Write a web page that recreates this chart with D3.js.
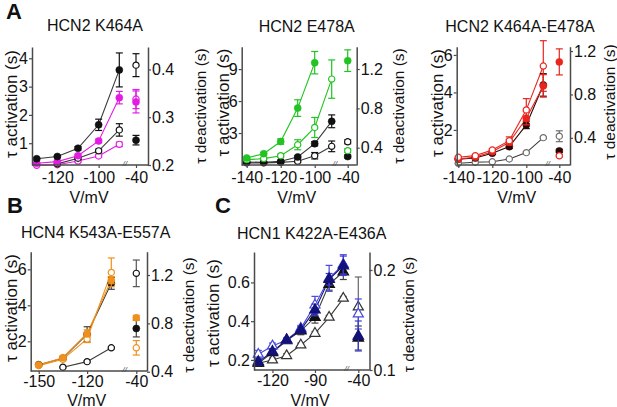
<!DOCTYPE html>
<html><head><meta charset="utf-8">
<script src="https://cdn.jsdelivr.net/npm/d3@7"></script>
<style>
body{margin:0;background:#fff;}
svg text{font-family:"Liberation Sans",Arial,Helvetica,sans-serif;}
</style></head><body>
<svg id="chart" width="617" height="407"></svg>
<script>
// ---------------- DATA ----------------
// Panel A1: HCN2 K464A
const a1Volt = [-130, -120, -110, -100, -90];
const a1BlackFilled = [0.45, 0.53, 0.82, 1.65, 3.59];
const a1BlackFilledErr = [0.04, 0.04, 0.06, 0.2, 0.6];
const a1MagentaFilled = [0.29, 0.35, 0.56, 1.08, 2.61];
const a1MagentaFilledErr = [0.03, 0.03, 0.05, 0.06, 0.22];
const a1BlackOpenVolt = [-120, -110, -100, -90];
const a1BlackOpen = [0.27, 0.47, 0.73, 1.47];
const a1BlackOpenErr = [0.03, 0.04, 0.06, 0.22];
const a1MagentaOpen = [0.22, 0.24, 0.37, 0.55, 0.96];
const a1MagentaOpenErr = [0.02, 0.03, 0.04, 0.05, 0.08];
// deactivation at -40 mV: [blackFilled, magentaFilled, blackOpen, magentaOpen]
const a1Deact = [0.252, 0.332, 0.409, 0.338];
const a1DeactErr = [0.01, 0.023, 0.024, 0.02];

// Panel A2: HCN2 E478A
const a2Volt = [-140, -130, -120, -110, -100, -90];
const a2GreenFilledVolt = [-140, -130, -120, -110, -100];
const a2GreenFilled = [0.66, 1.06, 2.2, 5.34, 9.6];
const a2GreenFilledErr = [0.1, 0.12, 0.25, 0.78, 1.05];
const a2GreenOpen = [0.5, 0.6, 0.87, 1.9, 3.52, 8.06];
const a2GreenOpenErr = [0.05, 0.08, 0.15, 0.47, 0.94, 1.8];
const a2BlackFilled = [0.28, 0.25, 0.35, 0.75, 2.0, 4.1];
const a2BlackFilledErr = [0.05, 0.05, 0.05, 0.1, 0.2, 0.6];
const a2BlackOpen = [0.2, 0.2, 0.25, 0.35, 0.87, 1.75];
const a2BlackOpenErr = [0.03, 0.03, 0.05, 0.1, 0.3, 0.5];
// [greenFilled, greenOpen, blackFilled, blackOpen]
const a2Deact = [1.285, 0.37, 0.31, 0.46];
const a2DeactErr = [0.11, 0.02, 0.015, 0.02];

// Panel A3: HCN2 K464A-E478A
const a3Volt = [-140, -130, -120, -110, -100, -90];
const a3RedOpen = [0.54, 0.63, 0.93, 1.43, 3.07, 5.41];
const a3RedOpenErr = [0.05, 0.05, 0.08, 0.2, 0.6, 1.35];
const a3RedFilled = [0.45, 0.55, 0.84, 1.34, 2.62, 4.35];
const a3RedFilledErr = [0.05, 0.05, 0.08, 0.15, 0.35, 0.6];
const a3DarkFilled = [0.44, 0.5, 0.76, 1.11, 2.27, 4.4];
const a3DarkFilledErr = [0.04, 0.04, 0.06, 0.1, 0.2, 0.6];
const a3GrayOpen = [0.22, 0.28, 0.3, 0.45, 0.79, 1.59];
const a3GrayOpenErr = [0.02, 0.02, 0.02, 0.03, 0.04, 0.05];
// [redOpen, redFilled, darkFilled, grayOpen]
const a3Deact = [0.235, 1.1, 0.28, 0.415];
const a3DeactErr = [0.01, 0.12, 0.015, 0.05];

// Panel B: HCN4 K543A-E557A
const bVolt = [-150, -135, -120, -105];
const bOrangeFilled = [0.68, 1.09, 2.44, 5.4];
const bOrangeFilledErr = [0.05, 0.08, 0.2, 0.2];
const bBlackFilled = [0.7, 1.06, 2.39, 5.22];
const bBlackFilledErr = [0.05, 0.08, 0.42, 0.33];
const bOrangeOpen = [0.65, 1.0, 2.13, 5.83];
const bOrangeOpenErr = [0.05, 0.08, 0.2, 0.8];
const bBlackOpenVolt = [-135, -120, -105];
const bBlackOpen = [0.56, 0.87, 1.64];
const bBlackOpenErr = [0.03, 0.04, 0.06];
// [orangeFilled, blackFilled, orangeOpen, blackOpen]
const bDeact = [0.846, 0.758, 0.598, 1.214];
const bDeactErr = [0.02, 0.07, 0.06, 0.11];

// Panel C: HCN1 K422A-E436A
const cVolt = [-130, -120, -110, -100, -90, -80, -70];
const cBlueOpen = [0.229, 0.272, 0.303, 0.363, 0.483, 0.621, 0.693];
const cBlueOpenErr = [0.02, 0.015, 0.01, 0.015, 0.045, 0.067, 0.05];
const cNavyFilled = [0.19, 0.243, 0.303, 0.355, 0.458, 0.616, 0.686];
const cNavyFilledErr = [0.015, 0.015, 0.01, 0.015, 0.03, 0.03, 0.05];
const cBlackFilled = [0.183, 0.238, 0.3, 0.35, 0.42, 0.59, 0.655];
const cBlackFilledErr = [0.015, 0.015, 0.01, 0.02, 0.03, 0.03, 0.04];
const cBlackOpen = [0.183, 0.2, 0.222, 0.277, 0.337, 0.42, 0.518];
const cBlackOpenErr = [0.01, 0.01, 0.01, 0.01, 0.01, 0.01, 0.01];
// [blackOpen, blueOpen, blackFilled, navyFilled]
const cDeact = [0.163, 0.156, 0.132, 0.134];
const cDeactErr = [0.03, 0.015, 0.012, 0.015];

// Tick labels
const a1XTicks = [-120, -100, -40], a1YLTicks = [1, 2, 3, 4], a1YRTicks = [0.2, 0.3, 0.4];
const a2XTicks = [-140, -120, -100, -40], a2YLTicks = [3, 6, 9], a2YRTicks = [0.4, 0.8, 1.2];
const a3XTicks = [-140, -120, -100, -40], a3YLTicks = [2, 4, 6], a3YRTicks = [0.4, 0.8, 1.2];
const bXTicks = [-150, -120, -40], bYLTicks = [2, 4, 6], bYRTicks = [0.4, 0.8, 1.2];
const cXTicks = [-120, -90, -40], cYLTicks = [0.2, 0.4, 0.6], cYRTicks = [0.1, 0.2];
const titles = ["HCN2 K464A", "HCN2 E478A", "HCN2 K464A-E478A", "HCN4 K543A-E557A", "HCN1 K422A-E436A"];

// ---------------- STYLES ----------------
const C = {
  black: '#111', blackLine: '#3a3a3a', magenta: '#e31ce3', green: '#22c322',
  red: '#e8261e', dark: '#2a0606', gray: '#6e6e6e', orange: '#f0901c',
  navy: '#12127a', blue: '#4848dc', axis: '#4a4a4a'
};

const svg = d3.select('#chart');
const fmt = d => String(d);

function drawPanel(p) {
  const g = svg.append('g');
  const x = d3.scaleLinear().domain(p.xDomain).range(p.xRange);
  const yL = d3.scaleLinear().domain(p.yLDomain).range([p.bottom, p.top]);
  const yR = d3.scaleLinear().domain(p.yRDomain).range([p.bottom, p.top]);

  p.series.forEach(s => {
    const pts = s.volts.map((v, i) => ({v, y: s.vals[i]}));
    g.append('path').datum(pts)
      .attr('d', d3.line().x(d => x(d.v)).y(d => yL(d.y)))
      .attr('fill', 'none').attr('stroke', s.line).attr('stroke-width', 1.1);
  });

  function marker(sel, s) {
    if (s.shape === 'tri') {
      sel.append('path').attr('d', d3.symbol().type(d3.symbolTriangle).size(s.open ? 44 : 48))
        .attr('fill', s.open ? '#fff' : s.color).attr('stroke', s.color).attr('stroke-width', 1.2);
    } else {
      sel.append('circle').attr('r', s.open ? 3.1 : 3.5)
        .attr('fill', s.open ? '#fff' : s.color).attr('stroke', s.color).attr('stroke-width', s.open ? 1.2 : 0.6);
    }
  }
  function errBar(cx, cy0, cy1, col) {
    g.append('line').attr('x1', cx).attr('x2', cx).attr('y1', cy0).attr('y2', cy1)
      .attr('stroke', col).attr('stroke-width', 1.2);
    [cy0, cy1].forEach(cy => g.append('line').attr('x1', cx - 3.5).attr('x2', cx + 3.5)
      .attr('y1', cy).attr('y2', cy).attr('stroke', col).attr('stroke-width', 1.2));
  }

  p.series.forEach(s => {
    const ec = s.errColor || s.color;
    s.volts.forEach((v, i) => {
      errBar(x(v), yL(s.vals[i] - s.errs[i]), yL(s.vals[i] + s.errs[i]), ec);
    });
    errBar(x(-40), yR(s.deact - s.deactErr), yR(s.deact + s.deactErr), ec);
    s.volts.forEach((v, i) => {
      marker(g.append('g').attr('transform', `translate(${x(v)},${yL(s.vals[i])})`), s);
    });
    marker(g.append('g').attr('transform', `translate(${x(-40)},${yR(s.deact)})`), s);
  });

  const axL = g.append('g').attr('transform', `translate(${p.left},0)`)
    .call(d3.axisLeft(yL).tickValues(p.yLTicks).tickFormat(fmt).tickSizeInner(3).tickSizeOuter(0).tickPadding(1));
  const axR = g.append('g').attr('transform', `translate(${p.right},0)`)
    .call(d3.axisRight(yR).tickValues(p.yRTicks).tickFormat(fmt).tickSizeInner(3).tickSizeOuter(0).tickPadding(1));
  const axB = g.append('g').attr('transform', `translate(0,${p.bottom})`)
    .call(d3.axisBottom(x).tickValues(p.xTicks).tickFormat(fmt).tickSizeInner(3).tickSizeOuter(0).tickPadding(p.xPad));
  axB.select('.domain').remove();
  g.append('line').attr('x1', p.left).attr('x2', p.right).attr('y1', p.bottom).attr('y2', p.bottom)
    .attr('stroke', C.axis).attr('stroke-width', 1.5);
  [axL, axR, axB].forEach(a => {
    a.attr('font-size', 16).attr('font-family', '"Liberation Sans",Arial,sans-serif');
    a.selectAll('.domain').attr('stroke', C.axis).attr('stroke-width', 1.5);
    a.selectAll('.tick line').attr('stroke', C.axis).attr('stroke-width', 1.2);
    a.selectAll('.tick text').attr('fill', '#111');
  });
  g.append('text').attr('x', p.breakX).attr('y', p.bottom + 1).attr('text-anchor', 'middle')
    .attr('font-size', 8).attr('font-style', 'italic').attr('fill', '#444').text('//');

  g.append('text').attr('x', p.titleX).attr('y', p.titleY).attr('text-anchor', 'middle')
    .attr('font-size', 16).attr('fill', '#111').text(p.title);
  g.append('text').attr('x', p.vmvX).attr('y', p.vmvY).attr('text-anchor', 'middle')
    .attr('font-size', 16).attr('fill', '#111').text('V/mV');
  g.append('text').attr('transform', `translate(${p.ltX},${p.ltY}) rotate(-90)`)
    .attr('text-anchor', 'middle').attr('dominant-baseline', 'central')
    .attr('font-size', 17).attr('fill', '#111').text('τ activation (s)');
  g.append('text').attr('transform', `translate(${p.rtX},${p.rtY}) rotate(-90)`)
    .attr('text-anchor', 'middle').attr('dominant-baseline', 'central')
    .attr('font-size', 15.5).attr('fill', '#111').text('τ deactivation (s)');
}

// ---------------- PANELS ----------------
drawPanel({
  title: titles[0], titleX: 95, titleY: 31, vmvX: 89, vmvY: 202.5, xPad: 4,
  ltX: 11, ltY: 104, rtX: 200, rtY: 106,
  left: 32, right: 148, top: 47, bottom: 165, breakX: 125,
  xDomain: [-130, -90, -40], xRange: [36.7, 119.3, 136],
  yLDomain: [0.23, 4.4], yRDomain: [0.2, 0.447],
  xTicks: a1XTicks, yLTicks: a1YLTicks, yRTicks: a1YRTicks,
  series: [
    {volts: a1Volt, vals: a1MagentaOpen, errs: a1MagentaOpenErr, deact: a1Deact[3], deactErr: a1DeactErr[3], color: C.magenta, line: C.magenta, open: true},
    {volts: a1BlackOpenVolt, vals: a1BlackOpen, errs: a1BlackOpenErr, deact: a1Deact[2], deactErr: a1DeactErr[2], color: C.black, line: C.blackLine, open: true},
    {volts: a1Volt, vals: a1MagentaFilled, errs: a1MagentaFilledErr, deact: a1Deact[1], deactErr: a1DeactErr[1], color: C.magenta, line: C.magenta, open: false},
    {volts: a1Volt, vals: a1BlackFilled, errs: a1BlackFilledErr, deact: a1Deact[0], deactErr: a1DeactErr[0], color: C.black, line: C.blackLine, open: false}
  ]
});

drawPanel({
  title: titles[1], titleX: 306.7, titleY: 31.5, vmvX: 296.7, vmvY: 202.5, xPad: 4,
  ltX: 223.5, ltY: 102.5, rtX: 398, rtY: 106,
  left: 241.7, right: 356.7, top: 46.7, bottom: 165, breakX: 335,
  xDomain: [-140, -90, -40], xRange: [246.7, 331.7, 347.7],
  yLDomain: [0, 11.1], yRDomain: [0.224, 1.427],
  xTicks: a2XTicks, yLTicks: a2YLTicks, yRTicks: a2YRTicks,
  series: [
    {volts: a2Volt, vals: a2BlackOpen, errs: a2BlackOpenErr, deact: a2Deact[3], deactErr: a2DeactErr[3], color: C.black, line: C.blackLine, open: true},
    {volts: a2Volt, vals: a2BlackFilled, errs: a2BlackFilledErr, deact: a2Deact[2], deactErr: a2DeactErr[2], color: C.black, line: C.blackLine, open: false},
    {volts: a2Volt, vals: a2GreenOpen, errs: a2GreenOpenErr, deact: a2Deact[1], deactErr: a2DeactErr[1], color: C.green, line: C.green, open: true},
    {volts: a2GreenFilledVolt, vals: a2GreenFilled, errs: a2GreenFilledErr, deact: a2Deact[0], deactErr: a2DeactErr[0], color: C.green, line: C.green, open: false}
  ]
});

drawPanel({
  title: titles[2], titleX: 520, titleY: 31.5, vmvX: 516.7, vmvY: 202.5, xPad: 4,
  ltX: 437, ltY: 103, rtX: 609, rtY: 102,
  left: 456.7, right: 570, top: 46.7, bottom: 165, breakX: 547.7,
  xDomain: [-140, -90, -40], xRange: [458.3, 543.3, 559.3],
  yLDomain: [0.13, 6.44], yRDomain: [0.15, 1.24],
  xTicks: a3XTicks, yLTicks: a3YLTicks, yRTicks: a3YRTicks,
  series: [
    {volts: a3Volt, vals: a3GrayOpen, errs: a3GrayOpenErr, deact: a3Deact[3], deactErr: a3DeactErr[3], color: C.gray, line: C.blackLine, open: true},
    {volts: a3Volt, vals: a3DarkFilled, errs: a3DarkFilledErr, deact: a3Deact[2], deactErr: a3DeactErr[2], color: C.dark, line: C.dark, open: false},
    {volts: a3Volt, vals: a3RedFilled, errs: a3RedFilledErr, deact: a3Deact[1], deactErr: a3DeactErr[1], color: C.red, line: C.red, open: false},
    {volts: a3Volt, vals: a3RedOpen, errs: a3RedOpenErr, deact: a3Deact[0], deactErr: a3DeactErr[0], color: C.red, line: C.red, open: true}
  ]
});

drawPanel({
  title: titles[3], titleX: 95.7, titleY: 238, vmvX: 86.7, vmvY: 405.5, xPad: 2,
  ltX: 11.5, ltY: 308, rtX: 188.5, rtY: 315,
  left: 30.7, right: 147, top: 251.7, bottom: 371, breakX: 124.7,
  xDomain: [-150, -105, -40], xRange: [38.7, 111.3, 136.3],
  yLDomain: [0.35, 6.98], yRDomain: [0.406, 1.393],
  xTicks: bXTicks, yLTicks: bYLTicks, yRTicks: bYRTicks,
  series: [
    {volts: bBlackOpenVolt, vals: bBlackOpen, errs: bBlackOpenErr, deact: bDeact[3], deactErr: bDeactErr[3], color: C.black, line: C.blackLine, open: true, errColor: '#555'},
    {volts: bVolt, vals: bBlackFilled, errs: bBlackFilledErr, deact: bDeact[1], deactErr: bDeactErr[1], color: C.black, line: C.blackLine, open: false, errColor: '#444'},
    {volts: bVolt, vals: bOrangeOpen, errs: bOrangeOpenErr, deact: bDeact[2], deactErr: bDeactErr[2], color: C.orange, line: C.orange, open: true},
    {volts: bVolt, vals: bOrangeFilled, errs: bOrangeFilledErr, deact: bDeact[0], deactErr: bDeactErr[0], color: C.orange, line: C.orange, open: false}
  ]
});

drawPanel({
  title: titles[4], titleX: 311.7, titleY: 239, vmvX: 310, vmvY: 405.5, xPad: 2,
  ltX: 213, ltY: 313, rtX: 408, rtY: 314.5,
  left: 254, right: 369.5, top: 252, bottom: 370, breakX: 346.7,
  xDomain: [-130, -70, -40], xRange: [258.3, 343.3, 358.3],
  yLDomain: [0.148, 0.757], yRDomain: [0.1, 0.218],
  xTicks: cXTicks, yLTicks: cYLTicks, yRTicks: cYRTicks,
  series: [
    {volts: cVolt, vals: cBlackOpen, errs: cBlackOpenErr, deact: cDeact[0], deactErr: cDeactErr[0], color: '#333', line: C.blackLine, open: true, shape: 'tri', errColor: '#666'},
    {volts: cVolt, vals: cBlackFilled, errs: cBlackFilledErr, deact: cDeact[2], deactErr: cDeactErr[2], color: C.black, line: C.blackLine, open: false, shape: 'tri', errColor: '#444'},
    {volts: cVolt, vals: cBlueOpen, errs: cBlueOpenErr, deact: cDeact[1], deactErr: cDeactErr[1], color: C.blue, line: C.blue, open: true, shape: 'tri'},
    {volts: cVolt, vals: cNavyFilled, errs: cNavyFilledErr, deact: cDeact[3], deactErr: cDeactErr[3], color: C.navy, line: C.navy, open: false, shape: 'tri', errColor: '#3a3ad0'}
  ]
});

// panel letters
[['A', 6, 19], ['B', 7, 213], ['C', 215, 213]].forEach(([t, px, py]) => {
  svg.append('text').attr('x', px).attr('y', py).attr('font-size', 22).attr('font-weight', 'bold')
    .attr('fill', '#111').text(t);
});
</script>
</body></html>
